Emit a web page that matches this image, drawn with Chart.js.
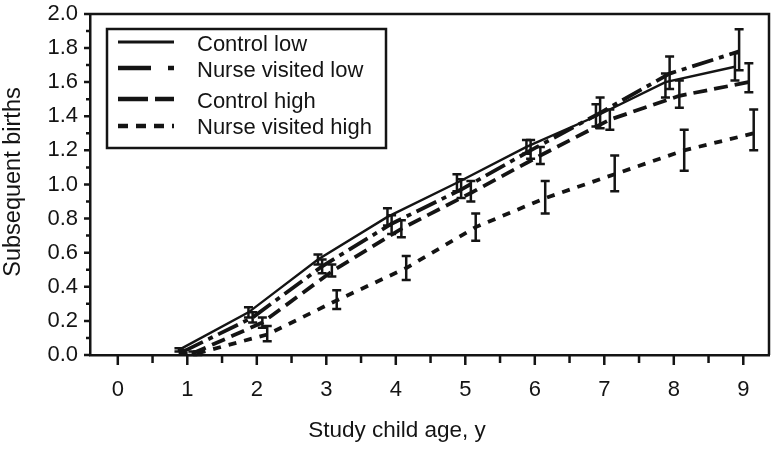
<!DOCTYPE html>
<html lang="en">
<head>
<meta charset="UTF-8">
<title>Subsequent births by study child age</title>
<script src="https://cdn.jsdelivr.net/npm/chart.js"></script>
<style>
    html, body { margin: 0; padding: 0; background: #fff; }
    #wrap { width: 779px; height: 454px; }
</style>
</head>
<body>
<div id="wrap"><canvas id="birthsChart"></canvas></div>
<script>
// study child age (years) and mean subsequent births per group
const ages = [1, 2, 3, 4, 5, 6, 7, 8, 9];

const controlLow      = [0.03, 0.25, 0.56, 0.81, 1.01, 1.22, 1.40, 1.60, 1.69];
const controlLowLo    = [0.02, 0.22, 0.53, 0.76, 0.96, 1.18, 1.34, 1.51, 1.61];
const controlLowHi    = [0.04, 0.28, 0.59, 0.86, 1.06, 1.26, 1.47, 1.65, 1.77];

const nurseLow        = [0.02, 0.22, 0.52, 0.77, 0.97, 1.20, 1.42, 1.65, 1.78];
const nurseLowLo      = [0.01, 0.19, 0.48, 0.71, 0.92, 1.15, 1.33, 1.56, 1.67];
const nurseLowHi      = [0.03, 0.25, 0.56, 0.82, 1.03, 1.26, 1.51, 1.75, 1.91];

const controlHigh     = [0.01, 0.19, 0.49, 0.74, 0.95, 1.17, 1.38, 1.52, 1.60];
const controlHighLo   = [0.00, 0.16, 0.46, 0.69, 0.90, 1.12, 1.32, 1.45, 1.54];
const controlHighHi   = [0.02, 0.22, 0.53, 0.79, 1.02, 1.22, 1.44, 1.61, 1.71];

const nurseHigh       = [0.01, 0.12, 0.32, 0.51, 0.75, 0.92, 1.06, 1.20, 1.30];
const nurseHighLo     = [0.00, 0.08, 0.27, 0.44, 0.67, 0.83, 0.96, 1.08, 1.20];
const nurseHighHi     = [0.02, 0.17, 0.38, 0.58, 0.83, 1.02, 1.17, 1.32, 1.44];

const seriesNames = ['Control low', 'Nurse visited low', 'Control high', 'Nurse visited high'];
const xTicks = [0, 1, 2, 3, 4, 5, 6, 7, 8, 9];
const yTicks = [0, 0.2, 0.4, 0.6, 0.8, 1.0, 1.2, 1.4, 1.6, 1.8, 2.0];

const ink = '#141414';
const fontFamily = "'Liberation Sans', Arial, sans-serif";

// groups are drawn slightly apart on the age axis so the bars don't overlap
function makeSet(label, values, lo, hi, shift, width, dash, legendDash) {
    return {
        label: label,
        data: ages.map((a, i) => ({ x: a + shift, y: values[i] })),
        errLo: lo,
        errHi: hi,
        showLine: true,
        borderColor: ink,
        borderWidth: width,
        borderDash: dash,
        legendDash: legendDash,
        pointRadius: 0,
        tension: 0,
        fill: false
    };
}

// error bars with caps
const errorBars = {
    id: 'errorBars',
    afterDatasetsDraw(chart) {
        const ctx = chart.ctx;
        const yScale = chart.scales.y;
        ctx.save();
        ctx.strokeStyle = ink;
        ctx.lineWidth = 2.5;
        ctx.setLineDash([]);
        chart.data.datasets.forEach((ds, di) => {
            const meta = chart.getDatasetMeta(di);
            meta.data.forEach((pt, i) => {
                const top = yScale.getPixelForValue(ds.errHi[i]);
                const bot = yScale.getPixelForValue(ds.errLo[i]);
                ctx.beginPath();
                ctx.moveTo(pt.x, top);
                ctx.lineTo(pt.x, bot);
                ctx.moveTo(pt.x - 4.5, top);
                ctx.lineTo(pt.x + 4.5, top);
                ctx.moveTo(pt.x - 4.5, bot);
                ctx.lineTo(pt.x + 4.5, bot);
                ctx.stroke();
            });
        });
        ctx.restore();
    }
};

// frame, tick marks, axis titles and the boxed legend
const decorations = {
    id: 'decorations',
    afterDraw(chart) {
        const ctx = chart.ctx;
        const area = chart.chartArea;
        const xs = chart.scales.x;
        const ys = chart.scales.y;
        ctx.save();
        ctx.strokeStyle = ink;
        ctx.fillStyle = ink;
        ctx.lineWidth = 2.5;
        ctx.setLineDash([]);

        // top and right sides of the frame
        ctx.beginPath();
        ctx.moveTo(area.left, area.top);
        ctx.lineTo(area.right, area.top);
        ctx.lineTo(area.right, area.bottom);
        ctx.stroke();

        // x ticks every half year
        ctx.beginPath();
        for (let v = 0; v <= 9.001; v += 0.5) {
            const px = xs.getPixelForValue(v);
            const len = Math.abs(v - Math.round(v)) < 0.01 ? 10 : 8;
            ctx.moveTo(px, area.bottom);
            ctx.lineTo(px, area.bottom + len);
        }
        // y ticks every 0.1
        for (let k = 0; k <= 20; k++) {
            const py = ys.getPixelForValue(k / 10);
            const len = k % 2 === 0 ? 6 : 4;
            ctx.moveTo(area.left, py);
            ctx.lineTo(area.left - len, py);
        }
        ctx.stroke();

        // axis titles
        ctx.textAlign = 'center';
        ctx.textBaseline = 'middle';
        ctx.font = '22.5px ' + fontFamily;
        ctx.fillText('Study child age, y', 397, 431);
        ctx.save();
        ctx.translate(14, 182);
        ctx.rotate(-Math.PI / 2);
        ctx.font = '23.5px ' + fontFamily;
        ctx.fillText('Subsequent births', 0, 0);
        ctx.restore();

        // legend box
        const bx = area.left + 17, by = 29, bw = 279, bh = 119;
        ctx.lineWidth = 2.5;
        ctx.strokeRect(bx, by, bw, bh);
        const lineRows = [13, 39, 70, 97];
        const textRows = [16, 42, 73, 99];
        ctx.font = '22px ' + fontFamily;
        ctx.textAlign = 'left';
        chart.data.datasets.forEach((ds, i) => {
            const ly = by + lineRows[i];
            ctx.beginPath();
            ctx.lineWidth = ds.borderWidth + 0.5;
            ctx.setLineDash(ds.legendDash);
            ctx.moveTo(bx + 11, ly);
            ctx.lineTo(bx + 67, ly);
            ctx.stroke();
            ctx.setLineDash([]);
            ctx.fillText(ds.label, bx + 90, by + textRows[i]);
        });
        ctx.restore();
    }
};

const ctx = document.getElementById('birthsChart').getContext('2d');
new Chart(ctx, {
    type: 'scatter',
    data: {
        datasets: [
            makeSet(seriesNames[0], controlLow, controlLowLo, controlLowHi, -0.12, 2.4, [], []),
            makeSet(seriesNames[1], nurseLow, nurseLowLo, nurseLowHi, -0.06, 3.8, [22, 6, 5, 6], [33, 17, 6, 20]),
            makeSet(seriesNames[2], controlHigh, controlHighLo, controlHighHi, 0.08, 3.8, [14, 7], [30, 7]),
            makeSet(seriesNames[3], nurseHigh, nurseHighLo, nurseHighHi, 0.15, 3.8, [8, 8], [10, 8])
        ]
    },
    options: {
        responsive: true,
        maintainAspectRatio: false,
        animation: false,
        layout: { padding: { top: 13, right: 10, left: 0, bottom: 0 } },
        plugins: {
            legend: { display: false },
            tooltip: { enabled: false }
        },
        scales: {
            x: {
                type: 'linear',
                min: -0.4,
                max: 9.37,
                afterBuildTicks: scale => { scale.ticks = xTicks.map(v => ({ value: v })); },
                afterFit: scale => { scale.height = 99; },
                grid: { display: false },
                border: { display: true, color: ink, width: 2.5 },
                ticks: {
                    color: ink,
                    padding: 14,
                    maxRotation: 0,
                    font: { family: fontFamily, size: 22 },
                    callback: v => String(v)
                }
            },
            y: {
                type: 'linear',
                min: 0,
                max: 2,
                afterBuildTicks: scale => { scale.ticks = yTicks.map(v => ({ value: v })); },
                afterFit: scale => { scale.width = 90; },
                grid: { display: false },
                border: { display: true, color: ink, width: 2.5 },
                ticks: {
                    color: ink,
                    padding: 4,
                    font: { family: fontFamily, size: 22, lineHeight: 0.9 },
                    callback: v => v.toFixed(1)
                }
            }
        }
    },
    plugins: [errorBars, decorations]
});
</script>
</body>
</html>
